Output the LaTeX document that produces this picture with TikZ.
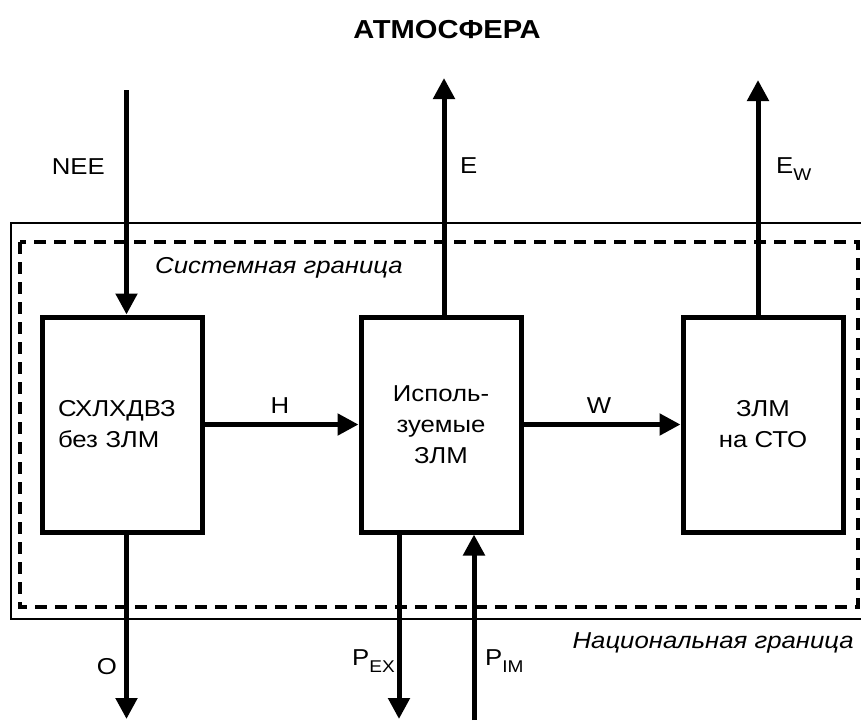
\documentclass[tikz,border=0pt]{standalone}
\usepackage{fontspec}
\setmainfont{Liberation Sans}[FakeStretch=1.12]
\usetikzlibrary{arrows.meta}
\newcommand\lowsub[1]{\raisebox{-7pt}{\fontsize{17}{17}\selectfont #1}}
\begin{document}
\begin{tikzpicture}[x=1pt,y=-1pt,
  font=\fontsize{23}{26}\selectfont,
  box/.style={draw, line width=5pt, minimum width=160pt, minimum height=215pt,
    inner sep=0pt, font=\fontsize{23}{31}\selectfont},
  arr/.style={line width=5pt, -{Triangle[length=21pt,width=21pt]}},
  thinborder/.style={line width=2.2pt},
  dashborder/.style={line width=3.5pt, dash pattern=on 12pt off 8pt},
  lbl/.style={inner sep=0pt},
  itl/.style={inner sep=0pt, font=\fontsize{23}{26}\selectfont\itshape}]
\useasboundingbox (0,0) rectangle (861,720);
% borders
\draw[thinborder] (861,223) -- (11,223) -- (11,619) -- (861,619);
\draw[dashborder] (20,242) rectangle (858,607);
% boxes
\node[box, align=left, text width=128pt] (b1) at (122,424.5) {СХЛХДВЗ\\без ЗЛМ};
\node[box, align=center] (b2) at (441,424.5) {Исполь-\\зуемые\\ЗЛМ};
\node[box, align=center] (b3) at (763,424.5) {ЗЛМ\\на СТО};
% coordinates
\coordinate (neeTop) at (126.5,90);
\coordinate (eTop) at (444,78);
\coordinate (ewTop) at (758,80);
\coordinate (oEnd) at (126.5,719);
\coordinate (pexEnd) at (399,719);
\coordinate (pimStart) at (474,720);
% arrows
\draw[arr] (neeTop) -- (neeTop |- b1.north);
\draw[arr] (eTop |- b2.north) -- (eTop);
\draw[arr] (ewTop |- b3.north) -- (ewTop);
\draw[arr] (oEnd |- b1.south) -- (oEnd);
\draw[arr] (pexEnd |- b2.south) -- (pexEnd);
\draw[arr] (pimStart) -- (pimStart |- b2.south);
\draw[arr] (b1.east) -- (b2.west);
\draw[arr] (b2.east) -- (b3.west);
% labels
\node[lbl, anchor=base, font=\fontsize{26}{30}\selectfont\bfseries] (title) at (447,38) {АТМОСФЕРА};
\node[lbl, anchor=base east] (lnee) at (105,174) {NEE};
\node[lbl, anchor=base west] (le) at (460,173) {E};
\node[lbl, anchor=base west] (lew) at (776,173) {E\lowsub{W}};
\node[lbl, anchor=base] (lh) at (280,413) {H};
\node[lbl, anchor=base] (lw) at (599,413) {W};
\node[lbl, anchor=base east] (lo) at (117,674) {O};
\node[lbl, anchor=base west] (lpex) at (352,665) {P\lowsub{EX}};
\node[lbl, anchor=base west] (lpim) at (485,665) {P\lowsub{IM}};
\node[itl, anchor=base west] (lsys) at (155,273) {Системная граница};
\node[itl, anchor=base east] (lnat) at (854,648) {Национальная граница};
\end{tikzpicture}
\end{document}
